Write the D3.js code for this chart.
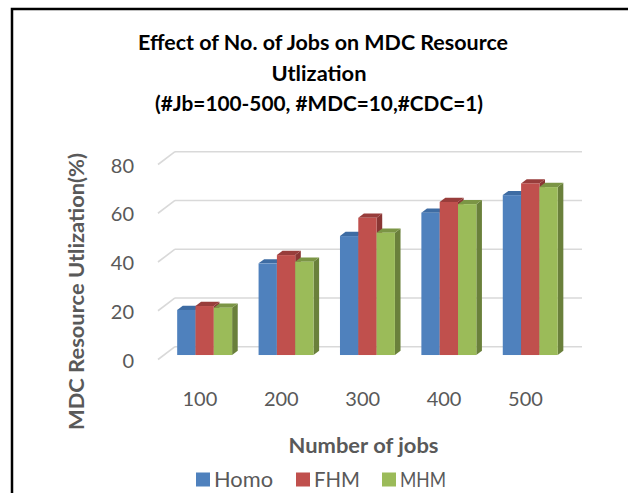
<!DOCTYPE html>
<html>
<head>
<meta charset="utf-8">
<script src="https://cdn.jsdelivr.net/npm/d3@7"></script>
<style>
  html, body { margin: 0; padding: 0; background: #fff; }
  svg { display: block; }
</style>
</head>
<body>
<svg id="chart" width="628" height="493"></svg>
<script>
// Chart data
const categories = ["100", "200", "300", "400", "500"];
const seriesNames = ["Homo", "FHM", "MHM"];
const homoValues = [18.5, 37.6, 48.8, 58.4, 65.6];
const fhmValues  = [20.1, 41.0, 56.3, 62.8, 70.4];
const mhmValues  = [19.4, 38.3, 50.2, 61.9, 68.9];
const yTicks = [0, 20, 40, 60, 80];
const titleLines = [
  "Effect of No. of Jobs on MDC Resource",
  "Utlization",
  "(#Jb=100-500, #MDC=10,#CDC=1)"
];
const xAxisTitle = "Number of jobs";
const yAxisTitle = "MDC Resource Utlization(%)";

const seriesValues = [homoValues, fhmValues, mhmValues];
const faceColors = {
  Homo: { front: "#4F81BD", top: "#3E6CA3", side: "#37608F" },
  FHM:  { front: "#C0504D", top: "#983D3B", side: "#8A3634" },
  MHM:  { front: "#9BBB59", top: "#7B9545", side: "#6A803B" }
};

const svg = d3.select("#chart");
const FONT = "Lato, 'Open Sans', 'Liberation Sans', sans-serif";

// Outer frame (only top and left edges fall inside the view)
svg.append("path")
  .attr("d", "M12,495 L12,9 L640,9")
  .attr("fill", "none")
  .attr("stroke", "#000")
  .attr("stroke-width", 2.5);

// Oblique 3D projection: back wall plane plus a depth offset
const DX = -17, DY = 12.8;           // offset from back wall to front edge
const yBack = d3.scaleLinear().domain([0, 80]).range([346.7, 151.7]);
const xBand = d3.scaleBand().domain(categories).range([175, 582])
  .paddingInner(0.325).paddingOuter(0.1625);
const xInner = d3.scaleBand().domain(seriesNames).range([0, xBand.bandwidth()]);
const tFront = 0.65, tBack = 0.32;   // depth slice occupied by the bars

// Gridlines on the back wall and side wall
const grid = svg.append("g").attr("stroke", "#D9D9D9").attr("stroke-width", 1.6).attr("fill", "none");
yTicks.forEach(v => {
  const y = yBack(v);
  grid.append("line").attr("x1", 175).attr("x2", 582).attr("y1", y).attr("y2", y);
  grid.append("line").attr("x1", 175 + DX).attr("y1", y + DY).attr("x2", 175).attr("y2", y);
});

// Y tick labels at the front edge of the side wall
svg.append("g").selectAll("text").data(yTicks).join("text")
  .attr("x", 134).attr("y", d => yBack(d) + DY)
  .attr("text-anchor", "end").attr("dominant-baseline", "central")
  .attr("font-family", FONT).attr("font-size", 20).attr("fill", "#595959")
  .text(d => d);

// 3D columns
const bars = svg.append("g");
categories.forEach((cat, ci) => {
  seriesNames.forEach((name, si) => {
    const v = seriesValues[si][ci];
    const c = faceColors[name];
    const x1 = xBand(cat) + xInner(name) + DX * tFront;
    const x2 = x1 + xInner.bandwidth();
    const yt = yBack(v) + DY * tFront;
    const yb = yBack(0) + DY * tFront;
    const ox = DX * (tBack - tFront), oy = DY * (tBack - tFront);
    const g = bars.append("g");
    // right side face
    g.append("path")
      .attr("d", `M${x2},${yt} L${x2 + ox},${yt + oy} L${x2 + ox},${yb + oy} L${x2},${yb} Z`)
      .attr("fill", c.side);
    // top face
    g.append("path")
      .attr("d", `M${x1},${yt} L${x2},${yt} L${x2 + ox},${yt + oy} L${x1 + ox},${yt + oy} Z`)
      .attr("fill", c.top);
    // front face
    g.append("rect")
      .attr("x", x1).attr("y", yt).attr("width", x2 - x1).attr("height", yb - yt)
      .attr("fill", c.front);
  });
});

// X tick labels along the floor front
svg.append("g").selectAll("text").data(categories).join("text")
  .attr("x", d => xBand(d) + xBand.bandwidth() / 2 + DX * 0.93)
  .attr("y", 405.5)
  .attr("text-anchor", "middle")
  .attr("font-family", FONT).attr("font-size", 20).attr("fill", "#595959")
  .text(d => d);

// Title
const titleBox = [[138, 508, 50], [271.5, 366.5, 80.5], [155, 483, 110.5]];
svg.append("g").selectAll("text").data(titleLines).join("text")
  .attr("x", (d, i) => titleBox[i][0])
  .attr("y", (d, i) => titleBox[i][2])
  .attr("textLength", (d, i) => titleBox[i][1] - titleBox[i][0])
  .attr("lengthAdjust", "spacingAndGlyphs")
  .attr("font-family", FONT).attr("font-weight", "bold").attr("font-size", 21)
  .attr("fill", "#000")
  .text(d => d);

// Axis titles
svg.append("text")
  .attr("x", 288.5).attr("y", 452.5)
  .attr("textLength", 150).attr("lengthAdjust", "spacingAndGlyphs")
  .attr("font-family", FONT).attr("font-weight", "bold").attr("font-size", 21)
  .attr("fill", "#595959")
  .text(xAxisTitle);

svg.append("text")
  .attr("transform", "translate(84,430) rotate(-90)")
  .attr("x", 0).attr("y", 0)
  .attr("textLength", 277).attr("lengthAdjust", "spacingAndGlyphs")
  .attr("font-family", FONT).attr("font-weight", "bold").attr("font-size", 21)
  .attr("fill", "#595959")
  .text(yAxisTitle);

// Legend
const legendX = [196, 296, 382];
const legendW = [59, 46, 46];
const legend = svg.append("g");
seriesNames.forEach((name, i) => {
  legend.append("rect")
    .attr("x", legendX[i]).attr("y", 472.5).attr("width", 14).attr("height", 14)
    .attr("fill", faceColors[name].front);
  legend.append("text")
    .attr("x", legendX[i] + 18).attr("y", 486.5)
    .attr("textLength", legendW[i]).attr("lengthAdjust", "spacingAndGlyphs")
    .attr("font-family", FONT).attr("font-size", 21).attr("fill", "#595959")
    .text(name);
});
</script>
</body>
</html>
